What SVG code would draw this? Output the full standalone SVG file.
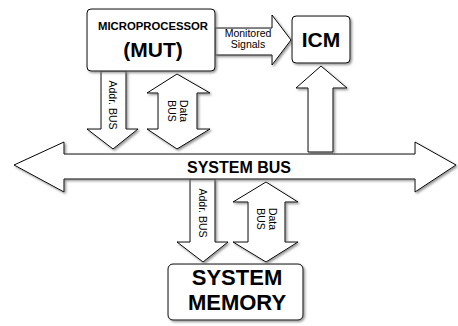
<svg xmlns="http://www.w3.org/2000/svg" width="458" height="326" viewBox="0 0 458 326">
<defs>
<filter id="sh" x="-10%" y="-10%" width="130%" height="130%">
<feDropShadow dx="1.5" dy="1.5" stdDeviation="0.8" flood-color="#777" flood-opacity="0.8"/>
</filter>
</defs>
<style>
.box{fill:#fff;stroke:#000;stroke-width:1;filter:url(#sh)}
.arr{fill:#fff;stroke:#000;stroke-width:1;stroke-linejoin:miter;filter:url(#sh)}
text{font-family:"Liberation Sans",Arial,sans-serif;fill:#000}
.b{font-weight:bold;text-anchor:middle}
.s{font-size:10.5px;text-anchor:middle}
</style>
<rect width="458" height="326" fill="#fff"/>
<g id="connectors">
<path class="arr" d="M101,71 V129 H87 L113,149 L138,129 H126 V71 Z"/>
<path class="arr" d="M177,74 L210,93 H197 V129 H210 L177,149 L147,129 H158 V93 H147 Z"/>
<path class="arr" d="M215,28 H272 V15 L291,40 L272,65 V55 H215 Z"/>
<path class="arr" d="M308,152 V88 H296 L321,66 L347,88 H333 V152 Z"/>
<path class="arr" d="M190,179 V242 H177 L203,262 L228,242 H215 V179 Z"/>
<path class="arr" d="M266,182 L298,202 H285 V242 H298 L266,262 L233,242 H248 V202 H233 Z"/>
<g id="system-bus">
<path class="arr" d="M14,165 L64,142 V154 H415 V142 L456,165 L415,192 V179 H64 V192 Z"/>
<text class="b" x="239" y="172.5" font-size="16">SYSTEM BUS</text>
</g>
<text class="s" x="248" y="36.5">Monitored</text>
<text class="s" x="248" y="48">Signals</text>
<text class="s" transform="translate(113,105) rotate(90)" y="3.7">Addr. BUS</text>
<text class="s" transform="translate(184,111) rotate(90)" y="3.7">Data</text>
<text class="s" transform="translate(172,111) rotate(90)" y="3.7">BUS</text>
<text class="s" transform="translate(203,213) rotate(90)" y="3.7">Addr. BUS</text>
<text class="s" transform="translate(273,219) rotate(90)" y="3.7">Data</text>
<text class="s" transform="translate(261,219) rotate(90)" y="3.7">BUS</text>
</g>
<g id="mut">
<rect class="box" x="87" y="9" width="128" height="62" rx="4"/>
<text class="b" x="153" y="30" font-size="10.5" textLength="110" lengthAdjust="spacingAndGlyphs">MICROPROCESSOR</text>
<text class="b" x="153" y="57" font-size="21">(MUT)</text>
</g>
<g id="icm">
<rect class="box" x="292" y="16" width="58" height="47" rx="4"/>
<text class="b" x="321" y="47" font-size="21">ICM</text>
</g>
<g id="memory">
<rect class="box" x="168" y="264" width="135" height="56" rx="5"/>
<text class="b" x="237" y="285" font-size="22">SYSTEM</text>
<text class="b" x="237" y="310" font-size="22">MEMORY</text>
</g>
</svg>
